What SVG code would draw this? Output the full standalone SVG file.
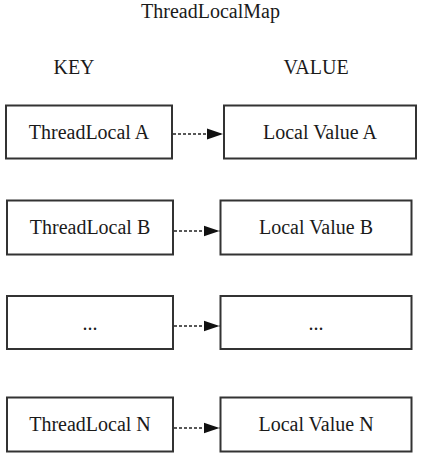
<svg xmlns="http://www.w3.org/2000/svg" width="424" height="459" viewBox="0 0 424 459">
<style>
text{font-family:"Liberation Serif","Times New Roman",serif;font-size:20px;fill:#1a1a1a;text-anchor:middle}
.box{fill:#fff;stroke:#333;stroke-width:2}
.edge{stroke:#222;stroke-width:1.6;stroke-dasharray:3 2;fill:none}
</style>
<defs>
<marker id="ah" viewBox="0 0 16 12" refX="16" refY="6" markerWidth="16" markerHeight="12" markerUnits="userSpaceOnUse" orient="auto">
<path d="M0,0.5 L16,6 L0,11.5 Z" fill="#111"/>
</marker>
</defs>
<text x="210.5" y="18">ThreadLocalMap</text>
<text x="74" y="74">KEY</text>
<text x="316" y="74">VALUE</text>
<g id="keyA"><rect class="box" x="6" y="105.5" width="166" height="53"/><text x="89" y="139">ThreadLocal A</text></g>
<g id="valA"><rect class="box" x="224" y="105.5" width="192" height="53"/><text x="320" y="139">Local Value A</text></g>
<g id="keyB"><rect class="box" x="7" y="200.5" width="166" height="54"/><text x="90" y="234">ThreadLocal B</text></g>
<g id="valB"><rect class="box" x="220.5" y="200.5" width="191" height="54"/><text x="316" y="234">Local Value B</text></g>
<g id="keyE"><rect class="box" x="7" y="296" width="166" height="53"/><text x="90" y="330">...</text></g>
<g id="valE"><rect class="box" x="220.5" y="296" width="191" height="53"/><text x="316" y="330">...</text></g>
<g id="keyN"><rect class="box" x="7" y="397.5" width="166" height="54"/><text x="90" y="431">ThreadLocal N</text></g>
<g id="valN"><rect class="box" x="220.5" y="397.5" width="191" height="54"/><text x="316" y="431">Local Value N</text></g>
<g id="connectors">
<line class="edge" x1="173" y1="134" x2="223" y2="134" marker-end="url(#ah)"/>
<line class="edge" x1="174" y1="231" x2="219.5" y2="231" marker-end="url(#ah)"/>
<line class="edge" x1="174" y1="326" x2="219.5" y2="326" marker-end="url(#ah)"/>
<line class="edge" x1="174" y1="428" x2="219.5" y2="428" marker-end="url(#ah)"/>
</g>
</svg>
